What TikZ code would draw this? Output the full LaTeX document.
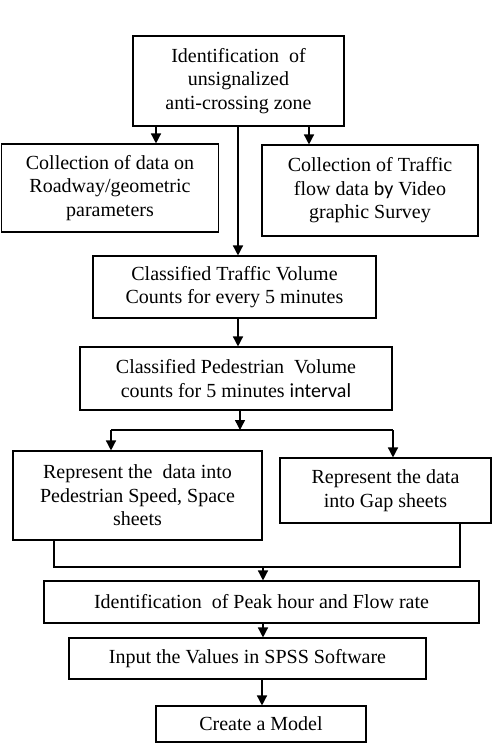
\documentclass[tikz,border=0pt]{standalone}
\usepackage{fontspec}
\setmainfont{Liberation Serif}
\newfontfamily\calfont{Carlito}
\usetikzlibrary{arrows.meta, positioning, calc}

\begin{document}
\begin{tikzpicture}[
  x=1pt, y=-1pt,
  >={Triangle[length=10pt, width=10pt]},
  stepbox/.style={draw, line width=1.1pt, align=center, inner sep=0pt,
    font=\fontsize{20}{23.5}\selectfont},
  arr/.style={->, line width=1.4pt},
  link/.style={line width=1.4pt},
]
  \useasboundingbox (0,0) rectangle (493,745);

  % first stage
  \node[stepbox, minimum width=211pt, minimum height=90pt] (zone) at (238.5,81)
    {Identification\ \ of\\unsignalized\\anti-crossing zone};
  \node[stepbox, minimum width=217pt, minimum height=88pt] (road) at (110,188)
    {Collection of data on\\Roadway/geometric\\parameters};
  \node[stepbox, minimum width=216pt, minimum height=91pt] (video) at (370,190.5)
    {Collection of Traffic\\flow data {\calfont by} Video\\graphic Survey};

  % counts
  \node[stepbox, minimum width=283pt, minimum height=62pt] (traffic) at (234.5,287)
    {Classified Traffic Volume\\Counts for every 5 minutes};
  \node[stepbox, minimum width=312pt, minimum height=63pt] (pedvol) at (236,378.5)
    {Classified Pedestrian\ \ Volume\\counts for 5 minutes {\calfont interval}};

  % sheets
  \node[stepbox, minimum width=249pt, minimum height=89pt] (speed) at (137.5,495.5)
    {Represent the\ \ data into\\Pedestrian Speed, Space\\sheets};
  \node[stepbox, minimum width=211pt, minimum height=65pt] (gap) at (385.5,490.5)
    {Represent the data\\into Gap sheets};

  % model
  \node[stepbox, minimum width=435pt, minimum height=42pt] (peak) at (261.5,602)
    {Identification\ \ of Peak hour and Flow rate};
  \node[stepbox, minimum width=357pt, minimum height=41pt] (spss) at (247.5,658.5)
    {Input the Values in SPSS Software};
  \node[stepbox, minimum width=210pt, minimum height=36pt] (model) at (261,724)
    {Create a Model};

  % branching points
  \coordinate (split) at (240,430);
  \coordinate (splitL) at (111,430);
  \coordinate (splitR) at (393,430);
  \coordinate (joinL) at (54,567);
  \coordinate (joinR) at (460,567);
  \coordinate (join) at (263,566);

  % connectors
  \draw[arr] (zone.south -| 156,0) -- (road.north -| 156,0);
  \draw[arr] (zone.south -| 309,0) -- (video.north -| 309,0);
  \draw[arr] (zone.south -| 238,0) -- (traffic.north -| 238,0);
  \draw[arr] (traffic.south -| 238,0) -- (pedvol.north -| 238,0);
  \draw[arr] (pedvol.south -| split) -- (split);
  \draw[link] (splitL) -- (splitR);
  \draw[arr] (splitL) -- (splitL |- speed.north);
  \draw[arr] (splitR) -- (splitR |- gap.north);
  \draw[link] (speed.south -| joinL) -- (joinL) -- (joinR) -- (gap.south -| joinR);
  \draw[arr] (join) -- (join |- peak.north);
  \draw[arr] (peak.south -| join) -- (spss.north -| join);
  \draw[arr] (spss.south -| 262,0) -- (model.north -| 262,0);
\end{tikzpicture}
\end{document}
